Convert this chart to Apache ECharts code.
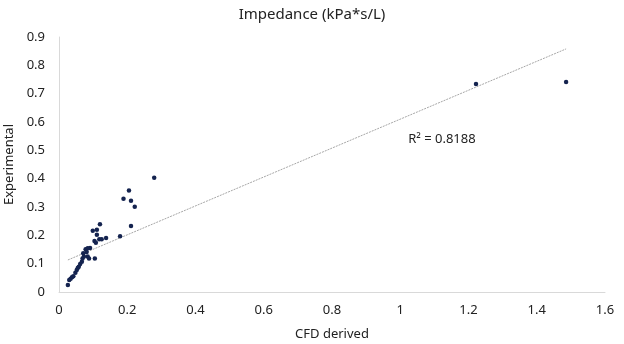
<!DOCTYPE html>
<html>
<head>
<meta charset="utf-8">
<script src="https://cdn.jsdelivr.net/npm/echarts@6/dist/echarts.min.js"></script>
<style>
  html, body { margin: 0; padding: 0; background: #fff; }
  #chart { width: 624px; height: 344px; }
</style>
</head>
<body>
<div id="chart"></div>
<script>
// CFD derived vs experimental impedance (kPa*s/L)
var cfdValues = [0.279, 0.205, 0.189, 0.211, 0.222, 0.211, 0.179, 0.120, 0.099, 0.111,
  0.111, 0.104, 0.108, 0.118, 0.125, 0.138, 0.091, 0.084, 0.078, 0.081,
  0.071, 0.084, 0.088, 0.105, 0.073, 0.069, 0.067, 0.062, 0.058, 0.055,
  0.052, 0.048, 0.042, 0.038, 0.034, 0.030, 0.026, 1.222, 1.486];
var expValues = [0.403, 0.358, 0.329, 0.322, 0.301, 0.233, 0.197, 0.239, 0.216, 0.220,
  0.202, 0.180, 0.174, 0.186, 0.186, 0.191, 0.155, 0.154, 0.151, 0.141,
  0.137, 0.125, 0.118, 0.118, 0.125, 0.118, 0.107, 0.099, 0.089, 0.085,
  0.078, 0.068, 0.056, 0.052, 0.047, 0.042, 0.025, 0.734, 0.741];

// linear trendline ends
var trendX = [0.026, 1.486];
var trendY = [0.113, 0.858];
var r2Text = 'R² = 0.8188';
var r2Pos = [1.122, 0.54];

var xTicks = [0, 0.2, 0.4, 0.6, 0.8, 1, 1.2, 1.4, 1.6];

var points = cfdValues.map(function (v, i) { return [v, expValues[i]]; });
var trend = trendX.map(function (v, i) { return [v, trendY[i]]; });

var font = '"Noto Sans", "Open Sans", sans-serif';

var option = {
  animation: false,
  title: {
    text: 'Impedance (kPa*s/L)',
    left: 'center',
    top: 2,
    textStyle: { fontFamily: font, fontSize: 15, fontWeight: 'normal', color: '#222' }
  },
  grid: { left: 59, right: 19, top: 37, bottom: 52, containLabel: false, outerBoundsMode: 'none' },
  xAxis: {
    type: 'value',
    min: 0,
    max: 1.6,
    interval: 0.2,
    name: 'CFD derived',
    nameLocation: 'middle',
    nameGap: 36,
    nameTextStyle: { fontFamily: font, fontSize: 13, color: '#222' },
    axisLine: { show: true, lineStyle: { color: '#d9d9d9' } },
    axisTick: { show: false },
    splitLine: { show: false },
    axisLabel: {
      fontFamily: font, fontSize: 13, color: '#222', margin: 12,
      formatter: function (v) { return xTicks.indexOf(+v.toFixed(1)) >= 0 ? String(+v.toFixed(1)) : ''; }
    }
  },
  yAxis: {
    type: 'value',
    min: 0,
    max: 0.9,
    interval: 0.1,
    name: 'Experimental',
    nameLocation: 'middle',
    nameGap: 43,
    nameTextStyle: { fontFamily: font, fontSize: 13, color: '#222' },
    axisLine: { show: true, lineStyle: { color: '#d9d9d9' } },
    axisTick: { show: false },
    splitLine: { show: false },
    axisLabel: {
      fontFamily: font, fontSize: 13, color: '#222', margin: 14,
      formatter: function (v) { return String(+v.toFixed(1)); }
    }
  },
  series: [
    {
      type: 'line',
      data: trend,
      symbol: 'none',
      silent: true,
      lineStyle: { color: '#a6a6a6', width: 1, type: [2, 1] },
      z: 1,
      markPoint: {
        symbol: 'circle',
        symbolSize: 0,
        data: [{ coord: r2Pos }],
        label: {
          show: true,
          formatter: r2Text,
          fontFamily: font,
          fontSize: 13,
          color: '#222'
        }
      }
    },
    {
      type: 'scatter',
      data: points,
      symbol: 'circle',
      symbolSize: 4.5,
      itemStyle: { color: '#14234f', opacity: 1 },
      z: 3
    }
  ]
};

var myChart = echarts.init(document.getElementById('chart'));
myChart.setOption(option);
</script>
</body>
</html>
